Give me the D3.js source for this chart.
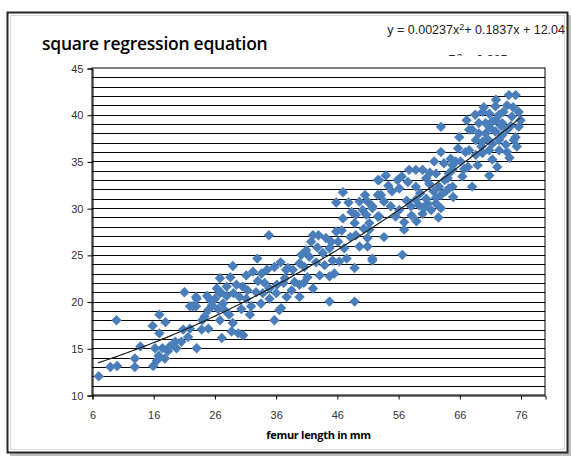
<!DOCTYPE html>
<html>
<head>
<meta charset="utf-8">
<script src="https://cdn.jsdelivr.net/npm/d3@7"></script>
<style>
  body { margin: 0; background: #fff; }
  svg { display: block; }
  .tick text { font-family: "Liberation Sans", Arial, sans-serif; font-size: 11px; fill: #333; }
</style>
</head>
<body>
<script>
let femurX = [
  7.1, 9.0, 10.1, 10.0, 13.0, 13.0, 13.9, 16.0, 16.6, 15.9, 17.0, 17.0, 18.0, 17.9, 16.3, 17.5,
  18.7, 19.6, 19.8, 20.6, 20.9, 21.7, 22.0, 23.1, 21.1, 22.0, 23.0, 23.0, 18.4, 16.9,
  34.9, 33.0, 29.0, 26.9, 28.0, 23.1, 22.5, 26.1, 26.9, 27.4, 25.0, 24.4, 25.0, 23.9, 26.9, 27.2,
  29.0, 28.8, 29.9, 30.7, 30.1, 29.1, 31.2, 32.0, 31.2, 32.3, 33.7, 33.1, 34.2, 35.8, 35.0, 36.1,
  36.6, 35.8, 37.7, 37.3, 33.9, 35.0, 29.6, 28.0, 25.3, 24.0, 25.6, 26.4, 27.8, 30.6, 32.8, 31.8,
  30.4, 33.6, 28.6, 27.0, 24.8, 26.6, 28.4, 31.4, 34.6, 36.8,
  47.0, 45.9, 47.9, 47.0, 52.7, 52.7, 49.7, 51.0, 50.2, 49.1, 50.8, 51.8, 48.9, 51.3, 52.7, 42.1,
  43.0, 45.9, 45.1, 44.8, 47.2, 49.1, 51.0, 49.7, 51.0, 41.8, 41.0, 40.2, 41.5, 39.9, 40.7, 38.8,
  38.0, 43.7, 45.3, 46.4, 48.9, 51.8, 43.2, 44.8, 42.1, 39.9, 39.1, 37.5, 37.8, 39.9, 36.9, 44.8,
  48.9, 46.2, 48.2, 50.4, 42.6, 44.0, 47.6, 38.6, 41.2, 36.2, 45.6, 40.6, 42.8, 44.2, 46.8, 48.4,
  50.6,
  63.0, 63.0, 61.9, 63.5, 64.6, 65.4, 64.9, 62.2, 64.1, 57.8, 58.9, 60.0, 52.9, 54.0, 55.9, 56.2,
  58.9, 61.1, 62.7, 63.8, 62.2, 64.9, 53.2, 53.7, 51.8, 54.8, 55.6, 52.9, 51.3, 53.7, 57.0, 57.0,
  58.1, 59.4, 60.0, 60.8, 61.4, 62.2, 63.0, 63.0, 56.7, 51.8, 58.9, 56.2, 59.6, 60.6, 61.8, 58.2,
  59.0, 60.2, 55.0, 57.4, 56.6, 60.6, 54.4, 57.6, 61.2, 63.6, 65.0, 62.6,
  74.1, 75.2, 73.8, 71.9, 69.8, 70.9, 72.5, 75.7, 76.0, 74.6, 73.0, 71.4, 70.3, 69.2, 68.1, 69.2,
  70.3, 71.9, 73.8, 75.2, 75.7, 72.5, 71.4, 70.9, 69.8, 68.7, 67.6, 67.0, 68.7, 69.8, 72.5, 73.8,
  71.4, 70.9, 68.1, 66.5, 64.9, 64.3, 64.3, 74.9, 67.6, 73.2, 71.9, 72.8, 70.6, 74.4, 66.2, 67.4,
  69.0, 65.8, 66.0, 67.2, 68.6, 70.0, 72.0, 73.6, 75.4, 74.2, 72.2, 66.8, 69.6, 71.0, 73.0, 74.8
]
let valueY = [
  12.0, 13.0, 13.1, 18.0, 13.0, 13.9, 15.2, 13.1, 13.7, 17.4, 18.6, 16.6, 17.8, 13.9, 15.0, 15.0,
  15.2, 15.7, 15.0, 15.7, 17.0, 16.2, 17.1, 15.0, 21.0, 19.5, 20.5, 19.5, 14.7, 14.2,
  27.1, 24.6, 23.8, 22.5, 21.6, 20.3, 19.5, 20.3, 20.9, 19.8, 19.1, 18.4, 17.1, 17.0, 18.0, 16.1,
  17.7, 16.8, 16.6, 16.4, 20.5, 20.9, 20.3, 19.5, 22.8, 23.2, 23.0, 22.2, 22.0, 23.7, 21.4, 20.9,
  19.1, 18.0, 23.4, 22.0, 20.9, 20.3, 21.8, 20.6, 20.2, 18.0, 19.6, 21.4, 19.0, 21.6, 21.0, 18.6,
  19.2, 19.8, 22.6, 21.0, 20.6, 19.2, 18.6, 21.2, 23.4, 24.2,
  31.7, 30.6, 30.6, 28.9, 33.0, 31.4, 30.7, 30.7, 29.8, 29.3, 29.3, 30.2, 28.4, 28.4, 29.1, 27.1,
  27.1, 27.5, 26.4, 25.7, 25.7, 27.1, 26.8, 25.9, 25.9, 26.4, 25.5, 25.0, 24.8, 24.1, 23.7, 23.4,
  23.6, 25.2, 24.4, 24.3, 23.6, 24.4, 22.8, 22.7, 21.4, 21.8, 22.1, 22.5, 20.5, 20.5, 19.3, 20.0,
  20.0, 26.4, 26.9, 27.8, 24.2, 23.9, 24.6, 21.2, 22.6, 21.8, 23.0, 22.0, 25.8, 26.8, 27.6, 29.6,
  31.4,
  38.7, 36.0, 35.0, 34.8, 35.3, 35.0, 34.1, 33.7, 33.2, 34.1, 34.1, 34.1, 33.0, 33.5, 33.0, 32.1,
  32.3, 32.6, 32.3, 31.8, 31.1, 32.3, 31.4, 30.7, 30.0, 30.2, 29.1, 29.1, 27.7, 26.9, 28.5, 27.7,
  30.2, 30.3, 29.4, 30.5, 29.8, 30.5, 30.0, 31.4, 25.0, 24.6, 30.9, 29.8, 31.6, 31.0, 31.8, 29.2,
  28.6, 30.0, 31.8, 30.8, 33.4, 33.2, 32.4, 32.8, 33.8, 33.0, 31.2, 29.0,
  42.1, 42.1, 41.0, 40.9, 40.3, 40.1, 40.0, 40.3, 39.4, 39.8, 39.1, 39.3, 39.1, 39.1, 38.4, 38.0,
  38.0, 38.2, 38.4, 37.6, 38.7, 37.3, 36.9, 36.2, 37.1, 37.3, 36.2, 36.0, 35.7, 35.9, 36.2, 36.0,
  35.2, 33.5, 32.3, 33.4, 34.6, 33.7, 32.1, 37.3, 38.4, 40.3, 39.4, 38.8, 37.4, 38.8, 35.0, 34.4,
  34.6, 36.4, 37.6, 39.4, 40.0, 40.8, 41.6, 36.8, 36.6, 35.4, 34.4, 34.2, 36.6, 38.6, 37.8, 40.8
]
// y = a x^2 + b x + c
let trendCoef = [0.00237, 0.1837, 12.04]
let trendRange = [7, 76]
let xTicks = [6, 16, 26, 36, 46, 56, 66, 76]
let yTicks = [10, 15, 20, 25, 30, 35, 40, 45]

let width = 571, height = 457
let plot = { left: 92, right: 545, top: 68, bottom: 395 }

let svg = d3.select('body').append('svg')
    .attr('width', width).attr('height', height)

// outer chart frame with a soft shadow
svg.append('rect').attr('x', 10).attr('y', 15).attr('width', 561).attr('height', 441)
    .attr('fill', '#bdbdbd')
svg.append('rect').attr('x', 7.5).attr('y', 12.5).attr('width', 560).attr('height', 440)
    .attr('fill', '#fff').attr('stroke', '#262626').attr('stroke-width', 2)
svg.append('rect').attr('x', 10.5).attr('y', 15.5).attr('width', 554).attr('height', 434)
    .attr('fill', 'none').attr('stroke', '#d9d9d9').attr('stroke-width', 1)

let x = d3.scaleLinear().domain([6, 80]).range([plot.left, plot.right])
let y = d3.scaleLinear().domain([10, 45]).range([plot.bottom, plot.top])

// title and trendline label
svg.append('text')
    .attr('x', 42).attr('y', 50)
    .style('font-family', '"Open Sans", sans-serif').style('font-weight', 600)
    .style('font-size', '17.5px').style('letter-spacing', '-0.25px')
    .text('square regression equation')

let eq = svg.append('text')
    .attr('x', 565).attr('y', 34).attr('text-anchor', 'end')
    .style('font-family', '"Liberation Sans", Arial, sans-serif').style('font-size', '12.5px')
    .style('fill', '#222')
eq.append('tspan').text('y = 0.00237x')
eq.append('tspan').attr('dy', -4).style('font-size', '9px').text('2')
eq.append('tspan').attr('dy', 4).text('+ 0.1837x + 12.04')

let r2 = svg.append('text')
    .attr('x', 448).attr('y', 64)
    .style('font-family', '"Liberation Sans", Arial, sans-serif').style('font-size', '12.5px')
    .style('fill', '#222')
r2.append('tspan').text('R')
r2.append('tspan').attr('dy', -4).style('font-size', '9px').text('2')
r2.append('tspan').attr('dy', 4).text(' = 0.985')
// the plot area hides the lower part of the R² label
svg.append('rect').attr('x', 380).attr('y', 56).attr('width', 180).attr('height', 14).attr('fill', '#fff')

// plot area and grid
svg.append('rect')
    .attr('x', plot.left).attr('y', plot.top)
    .attr('width', plot.right - plot.left).attr('height', plot.bottom - plot.top)
    .attr('fill', '#fff').attr('stroke', '#000').attr('stroke-width', 1)

svg.append('g').selectAll('line')
    .data(d3.range(11, 45))
    .enter().append('line')
    .attr('x1', plot.left).attr('x2', plot.right)
    .attr('y1', d => Math.round(y(d)) + 0.5).attr('y2', d => Math.round(y(d)) + 0.5)
    .attr('stroke', '#000').attr('stroke-width', 1)

let yAxis = svg.append('g')
    .attr('transform', 'translate(' + (plot.left + 0.5) + ',0.5)')
    .call(d3.axisLeft(y).tickValues(yTicks).tickSize(5).tickPadding(4))
let xAxis = svg.append('g')
    .attr('transform', 'translate(0.5,' + (plot.bottom + 0.5) + ')')
    .call(d3.axisBottom(x).tickValues(xTicks).tickSize(4).tickPadding(12))
;[xAxis, yAxis].forEach(a => {
    a.select('.domain').attr('stroke', '#000')
    a.selectAll('.tick line').attr('stroke', '#000')
})

svg.append('text')
    .attr('x', (plot.left + plot.right) / 2).attr('y', 439).attr('text-anchor', 'middle')
    .style('font-family', '"Open Sans", sans-serif').style('font-weight', 700)
    .style('font-size', '11px').style('letter-spacing', '-0.3px')
    .text('femur length in mm')

// scatter points (Excel-like diamonds)
let diamond = d3.symbol().type(d3.symbolSquare).size(54)
svg.append('g').selectAll('path')
    .data(femurX.map((d, i) => [d, valueY[i]]))
    .enter().append('path')
    .attr('d', diamond)
    .attr('transform', d => 'translate(' + x(d[0]) + ',' + y(d[1]) + ') rotate(45)')
    .attr('fill', '#4a7ebb')

// polynomial trendline
let trendPts = d3.range(trendRange[0], trendRange[1] + 0.01, 0.5)
    .map(v => [v, trendCoef[0] * v * v + trendCoef[1] * v + trendCoef[2]])
svg.append('path')
    .datum(trendPts)
    .attr('d', d3.line().x(d => x(d[0])).y(d => y(d[1])))
    .attr('fill', 'none').attr('stroke', '#222').attr('stroke-width', 1.2)
</script>
</body>
</html>
